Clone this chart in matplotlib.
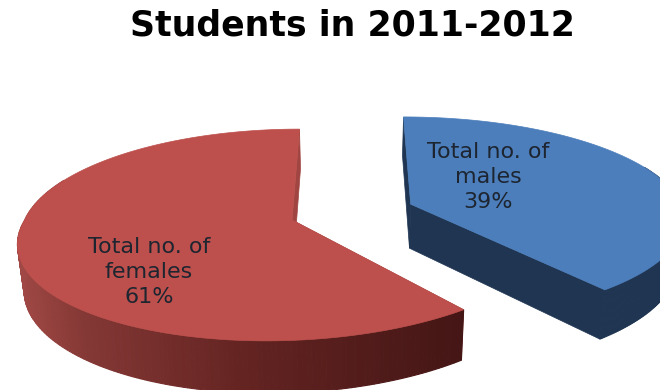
import numpy as np
import matplotlib
matplotlib.use('Agg')
import matplotlib.pyplot as plt
from matplotlib.patches import Polygon

title = 'Students in 2011-2012'
labels = ['Total no. of\nmales\n39%', 'Total no. of\nfemales\n61%']
shares = [39, 61]

face_colors = ['#4c7ebb', '#bd504c']
cut_colors = ['#1f3552', '#a04542']
label_pos = [(488, 177), (149, 272)]

# camera for the tilted pie, in pixels
cx, cy = 352, 212
rx, ry = 274, 101.5
persp = 0.14
explode = 0.23
height = 44.5
converge = 0.02
lean = [8, 16]          # front half of each slice pulled left
radius_x = [1.0, 0.965]


def project(gx, gy, front=0.0):
    w = 1 + persp * gy
    return cx + rx * gx / w + front, cy - ry * gy / w


def drop(sx, gy):
    # same ground point on the underside of the pie
    w = 1 + persp * gy
    return sx - (sx - cx) * converge, cy - ry * gy / w + height / w


def side_color(frac):
    # outer wall of the red slice darkens from left to right
    r = np.interp(frac, [0, 0.15, 0.5, 1], [160, 132, 100, 68])
    g = np.interp(frac, [0, 0.15, 0.5, 1], [72, 56, 36, 22])
    b = np.interp(frac, [0, 0.15, 0.5, 1], [69, 53, 34, 21])
    return (r / 255, g / 255, b / 255)


fig = plt.figure(figsize=(6.6, 3.9), dpi=100)
ax = fig.add_axes([0, 0, 1, 1])
ax.set_xlim(0, 660)
ax.set_ylim(390, 0)
ax.axis('off')

start = 0.0
for i, share in enumerate(shares):
    end = start + share / sum(shares) * 2 * np.pi
    theta = np.linspace(start, end, 240)
    mid = (start + end) / 2
    ox, oy = explode * np.sin(mid), explode * np.cos(mid)

    gx = ox + radius_x[i] * np.sin(theta)
    gy = oy + np.cos(theta)
    sx, sy = project(gx, gy, lean[i] * np.minimum(np.cos(theta), 0))
    bx, by = drop(sx, gy)
    ax_, ay_ = project(ox, oy)
    abx, aby = drop(ax_, oy)

    # cut faces first, the top covers most of them
    for k in (0, -1):
        ax.add_patch(Polygon([(sx[k], sy[k]), (bx[k], by[k]), (abx, aby), (ax_, ay_)],
                             closed=True, fc=cut_colors[i], ec=cut_colors[i], lw=0.5))

    # outer wall as thin strips, the back of the rim is never seen
    for k in range(len(theta) - 1):
        if np.cos(theta[k]) > 0.4:
            continue
        if i == 0:
            c = cut_colors[0]
        else:
            c = side_color((sx[k] - sx.min()) / (sx.max() - sx.min()))
        ax.add_patch(Polygon([(sx[k], sy[k]), (sx[k + 1], sy[k + 1]), (bx[k + 1], by[k + 1]), (bx[k], by[k])],
                             closed=True, fc=c, ec=c, lw=0.8))

    pts = np.column_stack([np.r_[ax_, sx], np.r_[ay_, sy]])
    ax.add_patch(Polygon(pts, closed=True, fc=face_colors[i], ec=face_colors[i], lw=0.5))

    ax.text(label_pos[i][0], label_pos[i][1], labels[i], ha='center', va='center',
            fontsize=16, color='#1d2530', family='DejaVu Sans', linespacing=1.3)
    start = end

ax.text(352, 26, title, ha='center', va='center', fontsize=25,
        fontweight='bold', family='DejaVu Sans', color='black')

fig.savefig('out.png', dpi=100)
